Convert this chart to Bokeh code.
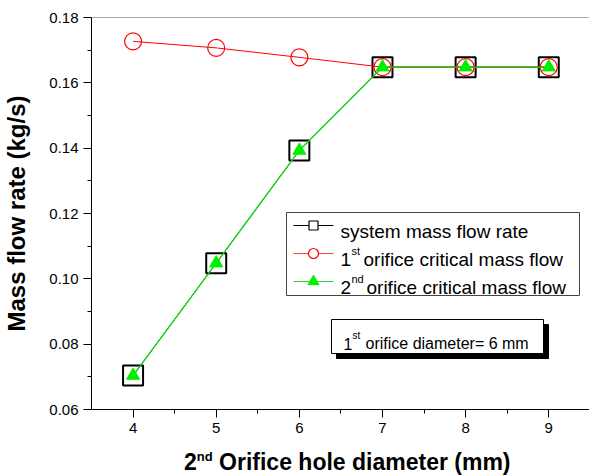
from bokeh.plotting import figure
from bokeh.models import Range1d, FixedTicker, NumeralTickFormatter, Span, Div
from bokeh.layouts import column
from bokeh.core.properties import value
from bokeh.embed import file_html
from bokeh.resources import INLINE

# ---- data ----
diameters = [4, 5, 6, 7, 8, 9]
system_flow = [0.0704, 0.1048, 0.1393, 0.1648, 0.1648, 0.1648]
orifice1_flow = [0.1727, 0.1707, 0.1678, 0.1648, 0.1648, 0.1648]
orifice2_flow = [0.0704, 0.1048, 0.1393, 0.1648, 0.1648, 0.1648]
x_ticks = [4, 5, 6, 7, 8, 9]
x_minor = [4.5, 5.5, 6.5, 7.5, 8.5]
y_ticks = [0.06, 0.08, 0.10, 0.12, 0.14, 0.16, 0.18]
y_minor = [0.07, 0.09, 0.11, 0.13, 0.15, 0.17]

FONT = "Liberation Sans"
W, H = 589, 476
PH = 444                          # figure height; x-axis title goes in a Div below
FL, FT, FB = 91, 17, 409          # frame left / top / bottom in page pixels
FW, FH = W - FL, FB - FT

xr = Range1d(3.5, 9.49)
yr = Range1d(0.06, 0.18)
p = figure(width=W, height=PH, x_range=xr, y_range=yr,
           output_backend="svg", toolbar_location=None,
           min_border_left=FL, min_border_right=0, min_border_top=FT,
           min_border_bottom=PH - FB, margin=(0, 0, 0, 0))
p.extra_x_ranges = {"px": Range1d(0, FW)}
p.extra_y_ranges = {"px": Range1d(0, FH)}

def px(X):
    return [v - FL for v in X]

def py(Y):
    return [FB - v for v in Y]

p.xgrid.visible = False
p.ygrid.visible = False
p.outline_line_color = None
p.background_fill_color = "white"
p.border_fill_color = "white"

for ax in (p.xaxis[0], p.yaxis[0]):
    ax.axis_line_color = "black"
    ax.major_tick_line_color = "black"
    ax.minor_tick_line_color = "black"
    ax.major_tick_out = 8
    ax.major_tick_in = 0
    ax.minor_tick_out = 4
    ax.minor_tick_in = 0
    ax.major_label_text_font = FONT
    ax.major_label_text_font_size = "15px"
    ax.major_label_text_color = "black"
    ax.major_label_standoff = 5

p.xaxis[0].ticker = FixedTicker(ticks=x_ticks, minor_ticks=x_minor)
p.yaxis[0].ticker = FixedTicker(ticks=y_ticks, minor_ticks=y_minor)
p.yaxis[0].formatter = NumeralTickFormatter(format="0.00")
p.yaxis[0].axis_label = "Mass flow rate (kg/s)"
p.yaxis[0].axis_label_text_font = FONT
p.yaxis[0].axis_label_text_font_size = "24px"
p.yaxis[0].axis_label_text_font_style = "bold"
p.yaxis[0].axis_label_text_color = "black"
p.yaxis[0].axis_label_standoff = 16

p.add_layout(Span(location=yr.end, dimension="width", line_color="#555555", line_width=1))

# ---- series ----
p.line(diameters, system_flow, line_color="black", line_width=1)
p.scatter(diameters, system_flow, marker="square", size=20, fill_color=None,
          line_color="black", line_width=2)
p.line(diameters, orifice1_flow, line_color="#ff0000", line_width=1)
p.scatter(diameters, orifice1_flow, marker="circle", size=17, fill_color=None,
          line_color="#ff0000", line_width=1.2)
p.line(diameters, orifice2_flow, line_color="#11dd11", line_width=1.3)
p.scatter(diameters, orifice2_flow, marker="triangle", size=13, fill_color="#00ee00",
          line_color="#00ee00")

# ---- legend (drawn in frame pixel space) ----
p.quad(left=px([286]), right=px([579]), bottom=py([295]), top=py([212]),
       x_range_name="px", y_range_name="px", fill_color="white",
       line_color="#444444", line_width=1)
rows = [225, 253, 281]
for yrow, col in zip(rows, ["black", "#ff4444", "#22dd22"]):
    p.line(px([293, 333]), py([yrow, yrow]), x_range_name="px", y_range_name="px",
           line_color=col, line_width=1)
p.scatter(px([313]), py([rows[0]]), x_range_name="px", y_range_name="px",
          marker="square", size=9, fill_color="white", line_color="black", line_width=1.2)
p.scatter(px([313]), py([rows[1]]), x_range_name="px", y_range_name="px",
          marker="circle", size=10, fill_color="white", line_color="#ff0000", line_width=1.2)
p.scatter(px([313]), py([rows[2]]), x_range_name="px", y_range_name="px",
          marker="triangle", size=11, fill_color="#00ee00", line_color="#00ee00")

leg_main = ["system mass flow rate", "1", "orifice critical mass flow", "2", "orifice critical mass flow"]
p.text(x=px([340, 340, 363, 340, 366]), y=py([231, 259, 259, 287, 287]), text=leg_main,
       x_range_name="px", y_range_name="px", text_font=value(FONT),
       text_font_size=value("19px"), text_baseline="alphabetic", text_align="left",
       text_color="black")
p.text(x=px([351, 351]), y=py([250, 278]), text=["st", "nd"],
       x_range_name="px", y_range_name="px", text_font=value(FONT),
       text_font_size=value("11px"), text_baseline="alphabetic", text_align="left",
       text_color="black")

# ---- note box with shadow ----
p.quad(left=px([336]), right=px([548]), bottom=py([358]), top=py([324]),
       x_range_name="px", y_range_name="px", fill_color="black", line_color="black")
p.quad(left=px([331]), right=px([543]), bottom=py([353]), top=py([319]),
       x_range_name="px", y_range_name="px", fill_color="white", line_color="black",
       line_width=1)
p.text(x=px([343, 365]), y=py([343, 343]), text=["1", "orifice diameter= 6 mm"],
       x_range_name="px", y_range_name="px", text_font=value(FONT),
       text_font_size=value("16px"), text_baseline="alphabetic", text_align="left",
       text_color="black")
p.text(x=px([352]), y=py([335]), text=["st"],
       x_range_name="px", y_range_name="px", text_font=value(FONT),
       text_font_size=value("10px"), text_baseline="alphabetic", text_align="left",
       text_color="black")

# ---- x axis title with superscript, as HTML below the figure ----
xtitle = Div(
    text='2<span style="position:relative; top:-9px; font-size:13px;">nd</span> '
         'Orifice hole diameter (mm)',
    width=W - 184, height=H - PH, margin=(0, 0, 0, 184),
    styles={"font-family": FONT, "font-size": "23px", "font-weight": "bold",
            "line-height": "26px", "color": "black", "white-space": "nowrap",
            "padding-top": "5px"},
)

layout = column(p, xtitle, spacing=0)
open("out.html", "w").write(file_html(layout, INLINE))
